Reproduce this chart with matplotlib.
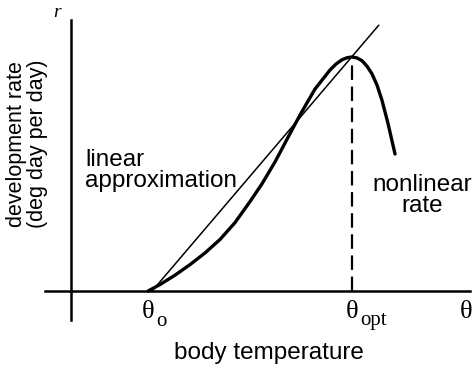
import numpy as np
import matplotlib.pyplot as plt

# body temperature (deg) and development rate (deg day per day)
theta_0 = 10.0
theta_opt = 30.0

# nonlinear development rate
temp = [9.29, 10.51, 12.03, 13.55, 15.08, 16.60, 18.12, 19.64, 20.86,
        22.18, 23.71, 24.72, 26.24, 27.77, 28.38, 28.98, 29.49, 30.0,
        30.51, 31.02, 31.52, 32.03, 32.54, 33.05, 33.65, 34.37]
rate = [0.0, 0.56, 1.36, 2.26, 3.26, 4.41, 5.85, 7.64, 9.16,
        11.03, 13.46, 15.04, 17.26, 18.89, 19.40, 19.76, 19.94, 20.0,
        19.92, 19.68, 19.22, 18.56, 17.60, 16.29, 14.34, 11.71]

# linear approximation r = T - theta_0, drawn a bit past the optimum
lin_temp = [theta_0 - 0.3, 32.7]
lin_rate = [t - theta_0 for t in lin_temp]
lin_rate[0] = 0.0

fig = plt.figure(figsize=(4.75, 3.73), dpi=100)
ax = fig.add_axes([0, 0, 1, 1])
ax.set_xlim(-5.74, 42.49)
ax.set_ylim(-7.0, 24.87)
ax.axis("off")

# axes drawn as plain lines
ax.plot([1.5, 1.5], [-2.5, 23.2], color="black", lw=1.8)
ax.plot([-1.2, 42.0], [0, 0], color="black", lw=1.8)

ax.plot(lin_temp, lin_rate, color="black", lw=1.1)
ax.plot(temp, rate, color="black", lw=2.4, solid_joinstyle="round",
        solid_capstyle="round")
ax.plot([theta_opt, theta_opt], [0, 19.6], color="black", lw=1.6,
        dashes=(6.5, 3))

sans = "Liberation Sans"
serif = "Liberation Serif"

ax.text(0.0, 23.8, "r", family=serif, style="italic", fontsize=14,
        ha="center", va="center")
ax.text(-3.0, 12.6, "development rate\n(deg day per day)", family=sans,
        fontsize=15.5, rotation=90, ha="center", va="center",
        linespacing=1.05)
ax.text(2.9, 10.3, "linear\napproximation", family=sans, fontsize=17.5,
        ha="left", va="center", linespacing=0.95)
ax.text(37.1, 8.2, "nonlinear\nrate", family=sans, fontsize=17.5,
        ha="center", va="center", linespacing=0.95)
ax.text(21.6, -5.3, "body temperature", family=sans, fontsize=17.5,
        ha="center", va="center")

# theta labels under the horizontal axis
ax.text(9.3, -1.8, "θ", family=serif, fontsize=19, ha="center", va="center")
ax.text(10.7, -2.6, "o", family=serif, fontsize=15, ha="center", va="center")
ax.text(30.0, -1.8, "θ", family=serif, fontsize=19, ha="center", va="center")
ax.text(30.8, -2.5, "opt", family=serif, fontsize=15, ha="left", va="center")
ax.text(41.6, -1.8, "θ", family=serif, fontsize=19, ha="center", va="center")

fig.savefig("out.png", dpi=100)
